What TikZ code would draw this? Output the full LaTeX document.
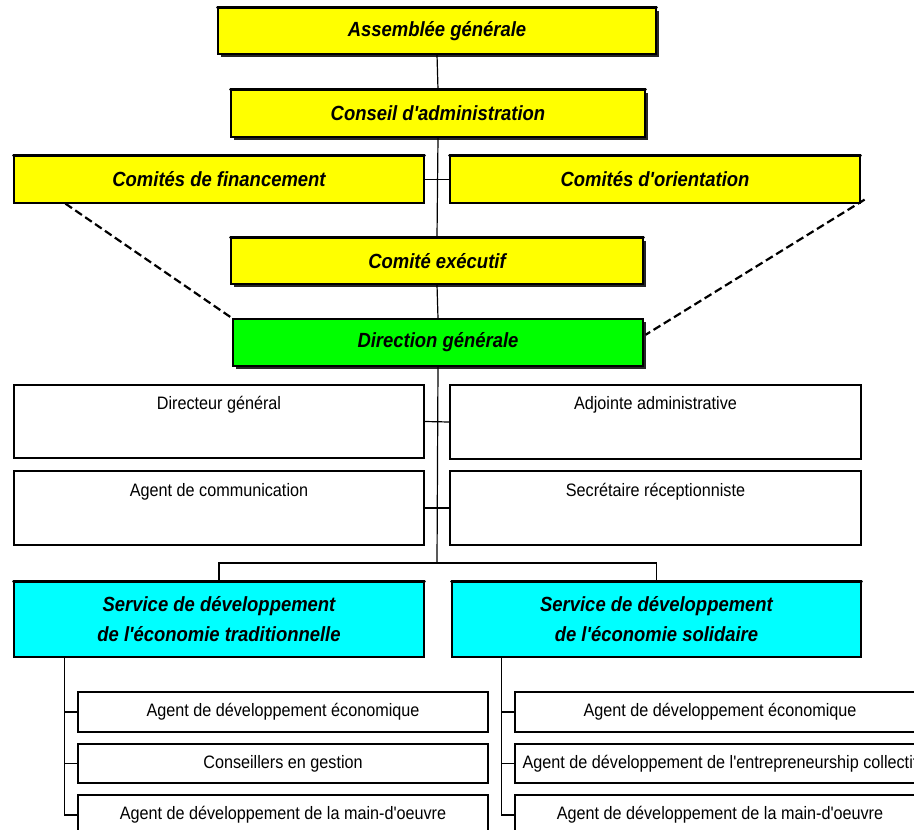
\documentclass[tikz,border=0pt]{standalone}
\usepackage{fontspec}
\newfontfamily\orgfont{Liberation Sans}[FakeStretch=0.9]
\usetikzlibrary{calc}
\definecolor{yel}{RGB}{255,255,0}
\definecolor{grn}{RGB}{0,255,0}
\definecolor{cyn}{RGB}{0,255,255}
\begin{document}
\begin{tikzpicture}[x=1pt,y=-1pt,
  hdr/.style={font=\orgfont\fontsize{20.5}{30}\selectfont\bfseries\itshape, align=center},
  reg/.style={font=\orgfont\fontsize{18}{21}\selectfont},
  box/.style={draw, line width=1.2pt, inner sep=0pt, anchor=center},
  raised/.style={box, preaction={fill=black!85, transform canvas={shift={(2.5pt,-2.5pt)}}}},
  conn/.style={line width=1.2pt},
  dashline/.style={line width=2.2pt, dash pattern=on 8pt off 4pt},
  topbar/.style={line width=2.6pt, line cap=round}]
\useasboundingbox (0,0) rectangle (914,830);
\clip (0,0) rectangle (914,830);
% top chain
\node[raised, fill=yel, hdr, minimum width=438pt, minimum height=46pt] (AG) at (437,31) {Assemblée générale};
\node[raised, fill=yel, hdr, minimum width=414pt, minimum height=47pt] (CA) at (438,113.5) {Conseil d'administration};
\node[box, fill=yel, hdr, minimum width=410pt, minimum height=47pt] (CF) at (219,179.5) {Comités de financement};
\node[box, fill=yel, hdr, minimum width=410pt, minimum height=47pt] (CO) at (655,179.5) {Comités d'orientation};
\node[raised, fill=yel, hdr, minimum width=412pt, minimum height=46pt] (CE) at (437,261) {Comité exécutif};
\node[raised, fill=grn, hdr, minimum width=410pt, minimum height=47pt] (DG) at (438,342.5) {Direction générale};
% staff
\node[box, minimum width=410pt, minimum height=73pt, label={[reg, anchor=center, yshift=-20pt]north:Directeur général}] (DIR) at (219,421.5) {};
\node[box, minimum width=411pt, minimum height=74pt, label={[reg, anchor=center, yshift=-20pt]north:Adjointe administrative}] (ADJ) at (655.5,422) {};
\node[box, minimum width=410pt, minimum height=74pt, label={[reg, anchor=center, yshift=-21pt]north:Agent de communication}] (COM) at (219,508) {};
\node[box, minimum width=411pt, minimum height=74pt, label={[reg, anchor=center, yshift=-21pt]north:Secrétaire réceptionniste}] (SEC) at (655.5,508) {};
% services
\node[box, fill=cyn, hdr, minimum width=410pt, minimum height=75pt] (ST) at (219,619.5) {Service de développement\\de l'économie traditionnelle};
\node[box, fill=cyn, hdr, minimum width=409pt, minimum height=75pt] (SS) at (656.5,619.5) {Service de développement\\de l'économie solidaire};
% sub units
\node[box, reg, minimum width=410pt, minimum height=40pt] (L1) at (283,712) {Agent de développement économique};
\node[box, reg, minimum width=410pt, minimum height=39pt] (L2) at (283,763.5) {Conseillers en gestion};
\node[box, reg, minimum width=410pt, minimum height=40pt] (L3) at (283,815) {Agent de développement de la main-d'oeuvre};
\node[box, reg, minimum width=410pt, minimum height=40pt] (R1) at (720,712) {Agent de développement économique};
\node[box, reg, minimum width=410pt, minimum height=39pt] (R2) at (720,763.5) {Agent de développement de l'entrepreneurship collectif};
\node[box, reg, minimum width=410pt, minimum height=40pt] (R3) at (720,815) {Agent de développement de la main-d'oeuvre};
% thick top edges
\foreach \n in {AG,CA,CF,CO,CE,ST,SS}
  \draw[topbar] (\n.north west) -- (\n.north east);
% connectors
\draw[conn] (AG.south) -- (CA.north);
\draw[conn] (CA.south) -- (CE.north);
\draw[conn] (CE.south) -- (DG.north);
\draw[conn] (CF.east) -- (CO.west);
\coordinate (bar) at (437,563);
\draw[conn] (DG.south) -- (bar);
\draw[conn] (DIR.east) -- (ADJ.west);
\draw[conn] (COM.east) -- (SEC.west);
\draw[conn] (ST.north) |- (bar) -| (SS.north);
\coordinate (tL) at ($(ST.south west)+(51,0)$);
\coordinate (tR) at ($(SS.south west)+(50,0)$);
\foreach \k in {L1,L2,L3} \draw[conn] (tL) |- (\k.west);
\foreach \k in {R1,R2,R3} \draw[conn] (tR) |- (\k.west);
% dashed links
\draw[dashline] ($(CF.south west)+(52,0)$) -- (DG.north west);
\draw[dashline] ($(CO.south east)+(4,-4)$) -- ($(DG.north east)!0.34!(DG.south east)+(2,0)$);
\end{tikzpicture}
\end{document}
